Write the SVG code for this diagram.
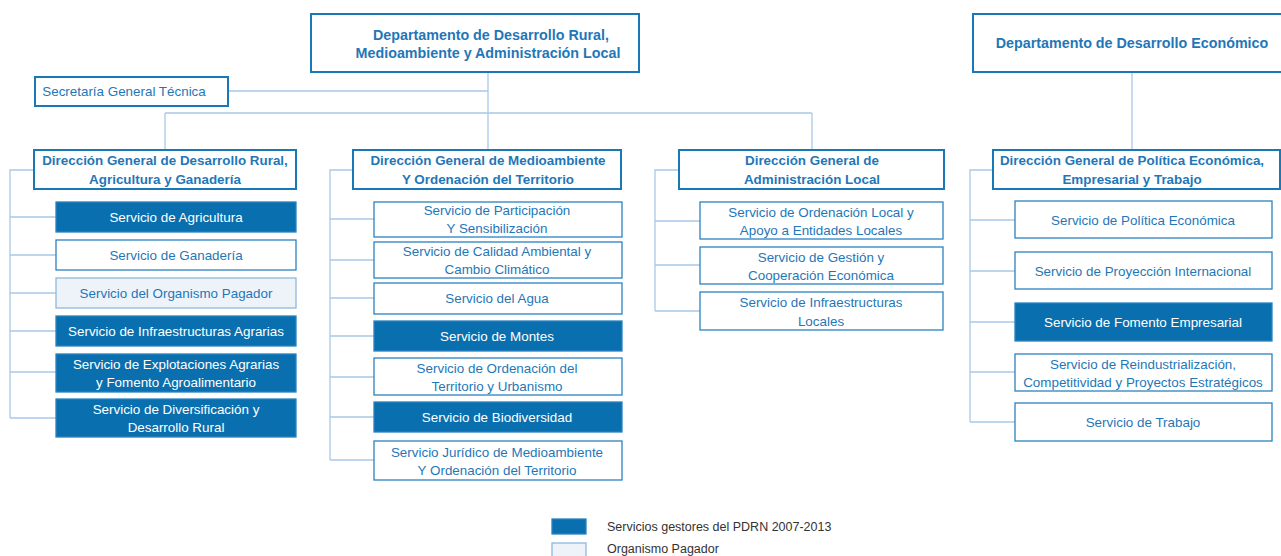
<svg xmlns="http://www.w3.org/2000/svg" width="1281" height="556" viewBox="0 0 1281 556">
<style>
.bg{fill:#ffffff}
.top{fill:#ffffff;stroke:#1a78b7;stroke-width:2}
.dg{fill:#ffffff;stroke:#1a78b7;stroke-width:2}
.sv{fill:#ffffff;stroke:#2a82c0;stroke-width:1.3}
.sf{fill:#0a6fae;stroke:#2a82c0;stroke-width:1.3}
.sp{fill:#eef3fa;stroke:#8fb9dc;stroke-width:1.3}
.t{font-family:"Liberation Sans",Arial,sans-serif;font-size:13.4px;fill:#1f77b8;text-anchor:middle}
.tw{font-family:"Liberation Sans",Arial,sans-serif;font-size:13.4px;fill:#ffffff;text-anchor:middle}
.tb{font-family:"Liberation Sans",Arial,sans-serif;font-size:13.4px;font-weight:bold;fill:#1f77b8;text-anchor:middle}
.th{font-family:"Liberation Sans",Arial,sans-serif;font-size:14.3px;font-weight:bold;fill:#1f77b8;text-anchor:middle}
.lg{font-family:"Liberation Sans",Arial,sans-serif;font-size:12.5px;fill:#333333}
.c{fill:none;stroke:#a9c9e8;stroke-width:1.3}
</style>
<rect class="bg" x="0" y="0" width="1281" height="556"/>
<g id="connectors">
<path class="c" d="M488 72 V113 M228 91 H488 M165 113 H812 M165 113 V150 M488 113 V150 M812 113 V150"/>
<path class="c" d="M1132 72 V150"/>
<path class="c" d="M34 170 H10 V418 M10 217 H56 M10 255 H56 M10 293 H56 M10 331 H56 M10 372 H56 M10 418 H56"/>
<path class="c" d="M353 170 H330 V460 M330 219 H374 M330 260 H374 M330 298 H374 M330 336 H374 M330 377 H374 M330 417 H374 M330 460 H374"/>
<path class="c" d="M679 170 H655 V311 M655 221 H700 M655 265 H700 M655 311 H700"/>
<path class="c" d="M993 170 H970 V422 M970 220 H1015 M970 271 H1015 M970 322 H1015 M970 372 H1015 M970 422 H1015"/>
</g>
<g id="dept-rural">
<rect class="top" x="311" y="14" width="328" height="58"/>
<text class="th" x="491" y="40">Departamento de Desarrollo Rural,</text>
<text class="th" x="488" y="58">Medioambiente y Administración  Local</text>
</g>
<g id="dept-economico">
<rect class="top" x="973" y="14" width="310" height="58"/>
<text class="th" x="1132" y="48">Departamento de Desarrollo Económico</text>
</g>
<g id="secretaria">
<rect class="dg" x="35" y="77" width="193" height="29"/>
<text class="t" x="124" y="96">Secretaría General Técnica</text>
</g>
<g id="dg-rural">
<rect class="dg" x="34" y="150" width="262" height="39"/>
<text class="tb" x="165" y="165">Dirección General de Desarrollo Rural,</text>
<text class="tb" x="165" y="184">Agricultura y Ganadería</text>
</g>
<g id="dg-medioambiente">
<rect class="dg" x="353" y="150" width="268" height="39"/>
<text class="tb" x="488" y="165">Dirección General de Medioambiente</text>
<text class="tb" x="488" y="184">Y Ordenación del Territorio</text>
</g>
<g id="dg-admin-local">
<rect class="dg" x="679" y="150" width="265" height="39"/>
<text class="tb" x="812" y="165">Dirección General de</text>
<text class="tb" x="812" y="184">Administración Local</text>
</g>
<g id="dg-politica">
<rect class="dg" x="993" y="150" width="287" height="39"/>
<text class="tb" x="1132" y="165">Dirección General de Política Económica,</text>
<text class="tb" x="1132" y="184">Empresarial y Trabajo</text>
</g>
<g id="s-agricultura">
<rect class="sf" x="56" y="202" width="240" height="30"/>
<text class="tw" x="176" y="222">Servicio de Agricultura</text>
</g>
<g id="s-ganaderia">
<rect class="sv" x="56" y="240" width="240" height="30"/>
<text class="t" x="176" y="260">Servicio de Ganadería</text>
</g>
<g id="s-organismo">
<rect class="sp" x="56" y="278" width="240" height="30"/>
<text class="t" x="176" y="298">Servicio del Organismo Pagador</text>
</g>
<g id="s-infra-agrarias">
<rect class="sf" x="56" y="316" width="240" height="30"/>
<text class="tw" x="176" y="336">Servicio de Infraestructuras Agrarias</text>
</g>
<g id="s-explotaciones">
<rect class="sf" x="56" y="354" width="240" height="38"/>
<text class="tw" x="176" y="369">Servicio de Explotaciones Agrarias</text>
<text class="tw" x="176" y="387">y Fomento Agroalimentario</text>
</g>
<g id="s-diversificacion">
<rect class="sf" x="56" y="399" width="240" height="38"/>
<text class="tw" x="176" y="414">Servicio de Diversificación y</text>
<text class="tw" x="176" y="432">Desarrollo Rural</text>
</g>
<g id="s-participacion">
<rect class="sv" x="374" y="202" width="248" height="35"/>
<text class="t" x="497" y="215">Servicio de Participación</text>
<text class="t" x="497" y="233">Y Sensibilización</text>
</g>
<g id="s-calidad">
<rect class="sv" x="374" y="242" width="248" height="36"/>
<text class="t" x="497" y="256">Servicio de Calidad Ambiental y</text>
<text class="t" x="497" y="274">Cambio Climático</text>
</g>
<g id="s-agua">
<rect class="sv" x="374" y="283" width="248" height="31"/>
<text class="t" x="497" y="303">Servicio del Agua</text>
</g>
<g id="s-montes">
<rect class="sf" x="374" y="321" width="248" height="30"/>
<text class="tw" x="497" y="341">Servicio de Montes</text>
</g>
<g id="s-ordenacion-territorio">
<rect class="sv" x="374" y="358" width="248" height="37"/>
<text class="t" x="497" y="373">Servicio de Ordenación del</text>
<text class="t" x="497" y="391">Territorio y Urbanismo</text>
</g>
<g id="s-biodiversidad">
<rect class="sf" x="374" y="402" width="248" height="30"/>
<text class="tw" x="497" y="422">Servicio de Biodiversidad</text>
</g>
<g id="s-juridico">
<rect class="sv" x="374" y="441" width="248" height="39"/>
<text class="t" x="497" y="457">Servicio Jurídico de Medioambiente</text>
<text class="t" x="497" y="475">Y Ordenación del Territorio</text>
</g>
<g id="s-ordenacion-local">
<rect class="sv" x="700" y="202" width="243" height="37"/>
<text class="t" x="821" y="217">Servicio de Ordenación Local y</text>
<text class="t" x="821" y="235">Apoyo a Entidades Locales</text>
</g>
<g id="s-gestion">
<rect class="sv" x="700" y="247" width="243" height="37"/>
<text class="t" x="821" y="262">Servicio de Gestión y</text>
<text class="t" x="821" y="280">Cooperación Económica</text>
</g>
<g id="s-infra-locales">
<rect class="sv" x="700" y="292" width="243" height="38"/>
<text class="t" x="821" y="307">Servicio de Infraestructuras</text>
<text class="t" x="821" y="326">Locales</text>
</g>
<g id="s-politica">
<rect class="sv" x="1015" y="201" width="257" height="37"/>
<text class="t" x="1143" y="225">Servicio de Política Económica</text>
</g>
<g id="s-proyeccion">
<rect class="sv" x="1015" y="252" width="257" height="37"/>
<text class="t" x="1143" y="276">Servicio de Proyección Internacional</text>
</g>
<g id="s-fomento">
<rect class="sf" x="1015" y="303" width="257" height="38"/>
<text class="tw" x="1143" y="327">Servicio de Fomento Empresarial</text>
</g>
<g id="s-reindustrializacion">
<rect class="sv" x="1015" y="354" width="257" height="37"/>
<text class="t" x="1143" y="369">Servicio de Reindustrialización,</text>
<text class="t" x="1143" y="387">Competitividad y Proyectos Estratégicos</text>
</g>
<g id="s-trabajo">
<rect class="sv" x="1015" y="403" width="257" height="38"/>
<text class="t" x="1143" y="427">Servicio de Trabajo</text>
</g>
<g id="legend">
<rect class="sf" x="552" y="519" width="34" height="15"/>
<text class="lg" x="607" y="531">Servicios gestores del PDRN 2007-2013</text>
<rect class="sp" x="552" y="543" width="34" height="16"/>
<text class="lg" x="607" y="553">Organismo Pagador</text>
</g>
</svg>
